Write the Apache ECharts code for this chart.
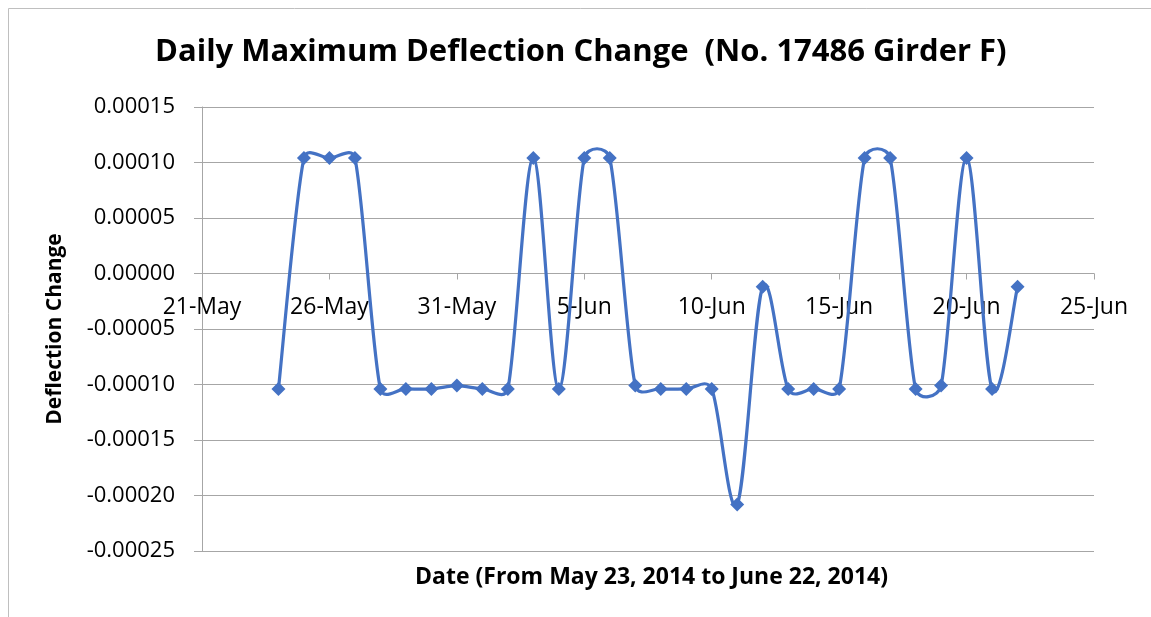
<!DOCTYPE html>
<html>
<head>
<meta charset="utf-8">
<title>Daily Maximum Deflection Change</title>
<script src="https://cdn.jsdelivr.net/npm/echarts@6/dist/echarts.min.js"></script>
<style>
  html, body { margin: 0; padding: 0; background: #fff; }
  #chart { width: 1151px; height: 617px; }
</style>
</head>
<body>
<div id="chart"></div>
<script>
// daily readings, 24 May - 22 Jun 2014
var dates = [
  '2014-05-24', '2014-05-25', '2014-05-26', '2014-05-27', '2014-05-28',
  '2014-05-29', '2014-05-30', '2014-05-31', '2014-06-01', '2014-06-02',
  '2014-06-03', '2014-06-04', '2014-06-05', '2014-06-06', '2014-06-07',
  '2014-06-08', '2014-06-09', '2014-06-10', '2014-06-11', '2014-06-12',
  '2014-06-13', '2014-06-14', '2014-06-15', '2014-06-16', '2014-06-17',
  '2014-06-18', '2014-06-19', '2014-06-20', '2014-06-21', '2014-06-22'
]
var deflection = [
  -0.000104, 0.000104, 0.000104, 0.000104, -0.000104,
  -0.000104, -0.000104, -0.000101, -0.000104, -0.000104,
  0.000104, -0.000104, 0.000104, 0.000104, -0.000101,
  -0.000104, -0.000104, -0.000104, -0.000208, -0.000012,
  -0.000104, -0.000104, -0.000104, 0.000104, 0.000104,
  -0.000104, -0.000101, 0.000104, -0.000104, -0.000012
]
// x axis: 21-May to 25-Jun, a tick every 5 days
var xStart = '2014-05-21'
var xEnd = '2014-06-25'
var xStep = 5
var yMin = -0.00025
var yMax = 0.00015
var yStep = 0.00005

var MONTHS = ['Jan', 'Feb', 'Mar', 'Apr', 'May', 'Jun', 'Jul', 'Aug', 'Sep', 'Oct', 'Nov', 'Dec']
var EPOCH = Date.UTC(1899, 11, 30)

// spreadsheet style day serial, so the 5 day ticks fall on 21-May
function toSerial(s) {
  var p = s.split('-')
  return Math.round((Date.UTC(+p[0], +p[1] - 1, +p[2]) - EPOCH) / 86400000)
}
function serialLabel(v) {
  var d = new Date(EPOCH + v * 86400000)
  return d.getUTCDate() + '-' + MONTHS[d.getUTCMonth()]
}

var points = dates.map(function (d, i) { return [toSerial(d), deflection[i]] })

var blue = '#4472C4'
var grey = '#a6a6a6'
var font = '"Open Sans", sans-serif'

var gridTop = 107, gridBottom = 66, chartH = 617
// put the date axis where y = 0 crosses
var plotH = chartH - gridTop - gridBottom
var xAxisOffset = -plotH * (0 - yMin) / (yMax - yMin)

function dist(a, b) {
  return Math.sqrt((a[0] - b[0]) * (a[0] - b[0]) + (a[1] - b[1]) * (a[1] - b[1]))
}

// spreadsheet-like smoothed segment from point i to i+1 (bezier, 1/6 tangents, capped at half the segment)
function renderSegment(params, api) {
  var i = params.dataIndex
  var n = points.length
  if (i >= n - 1) return null
  var p0 = api.coord(points[Math.max(i - 1, 0)])
  var p1 = api.coord(points[i])
  var p2 = api.coord(points[i + 1])
  var p3 = api.coord(points[Math.min(i + 2, n - 1)])
  var d12 = dist(p1, p2)
  var d02 = dist(p0, p2)
  var d13 = dist(p1, p3)
  var f = 1 / 6, g = 1 / 6
  if (d02 / 6 > d12 / 2 && d02 > 0) f = d12 / 2 / d02
  if (d13 / 6 > d12 / 2 && d13 > 0) g = d12 / 2 / d13
  return {
    type: 'bezierCurve',
    shape: {
      x1: p1[0], y1: p1[1],
      x2: p2[0], y2: p2[1],
      cpx1: p1[0] + f * (p2[0] - p0[0]),
      cpy1: p1[1] + f * (p2[1] - p0[1]),
      cpx2: p2[0] - g * (p3[0] - p1[0]),
      cpy2: p2[1] - g * (p3[1] - p1[1])
    },
    style: { fill: 'none', stroke: blue, lineWidth: 3.2 },
    silent: true
  }
}

var chart = echarts.init(document.getElementById('chart'))
chart.setOption({
  animation: false,
  title: [{
    text: 'Daily Maximum Deflection Change  (No. 17486 Girder F)',
    left: 150,
    top: 32,
    textStyle: { fontFamily: font, fontSize: 31, fontWeight: 'bold', color: '#000' }
  }, {
    text: 'Date (From May 23, 2014 to June 22, 2014)',
    left: 410,
    top: 561,
    textStyle: { fontFamily: font, fontSize: 23, fontWeight: 'bold', color: '#000' }
  }],
  graphic: [{
    type: 'rect',
    shape: { x: 8.5, y: 8.5, width: 1200, height: 700 },
    style: { fill: 'none', stroke: '#bfbfbf', lineWidth: 1 },
    silent: true
  }],
  grid: { left: 202, right: 57, top: gridTop, bottom: gridBottom },
  xAxis: {
    type: 'value',
    min: toSerial(xStart),
    max: toSerial(xEnd),
    interval: xStep,
    offset: xAxisOffset,
    axisLine: { onZero: false, lineStyle: { color: grey, width: 1 } },
    axisTick: { show: true, length: 6, lineStyle: { color: grey } },
    splitLine: { show: false },
    axisLabel: {
      formatter: serialLabel,
      margin: 22,
      fontFamily: font,
      fontSize: 23,
      color: '#000',
      showMinLabel: true,
      showMaxLabel: true,
      hideOverlap: false
    }
  },
  yAxis: {
    type: 'value',
    min: yMin,
    max: yMax,
    interval: yStep,
    name: 'Deflection Change',
    nameLocation: 'middle',
    nameGap: 136,
    nameTextStyle: { fontFamily: font, fontSize: 21, fontWeight: 'bold', color: '#000' },
    axisLine: { show: true, lineStyle: { color: grey, width: 1 } },
    axisTick: { show: true, length: 8, lineStyle: { color: grey } },
    splitLine: { show: true, lineStyle: { color: grey, width: 1 } },
    axisLabel: {
      formatter: function (v) { return (Math.abs(v) < 1e-12 ? 0 : v).toFixed(5) },
      margin: 27,
      fontFamily: font,
      fontSize: 22,
      color: '#000'
    }
  },
  series: [{
    type: 'custom',
    renderItem: renderSegment,
    data: points,
    clip: false,
    z: 2
  }, {
    type: 'scatter',
    data: points,
    symbol: 'diamond',
    symbolSize: 14,
    itemStyle: { color: blue, opacity: 1 },
    z: 3
  }]
})
</script>
</body>
</html>
